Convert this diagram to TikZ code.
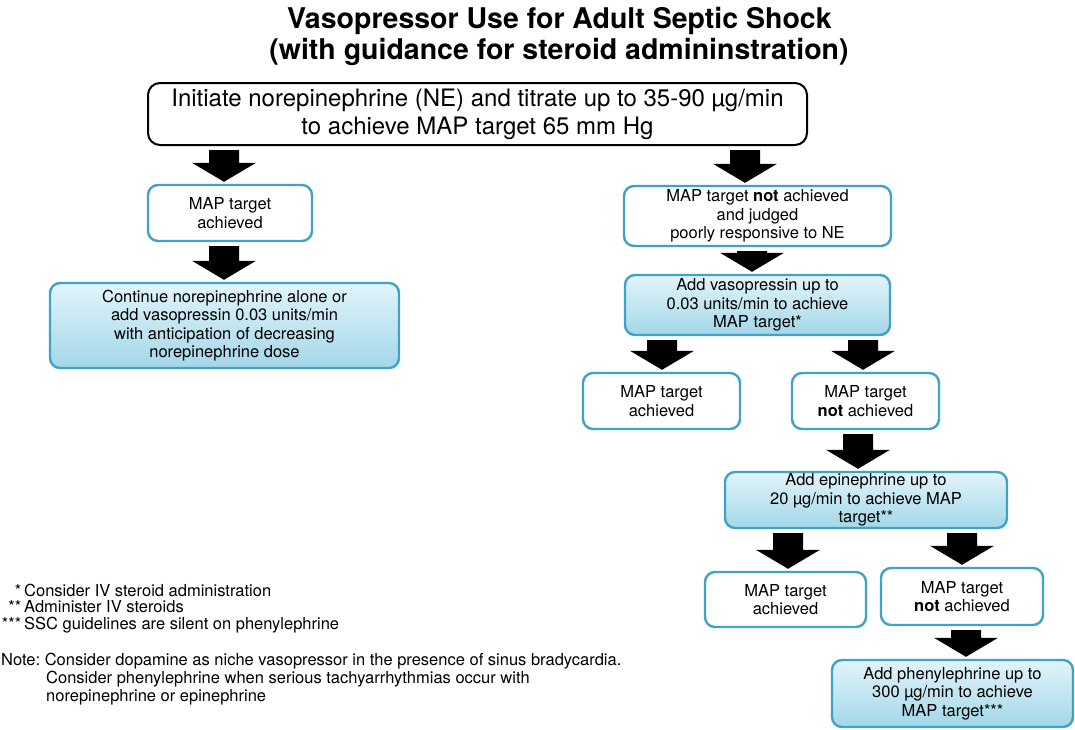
\documentclass[tikz,border=0pt]{standalone}
\usepackage{fontspec}
\setmainfont{TeX Gyre Heros}
\usetikzlibrary{calc}
\definecolor{bcyan}{HTML}{3FA3C6}
\definecolor{gtop}{HTML}{E2F4FA}
\definecolor{gbot}{HTML}{A3D7E8}
\newcommand\blockarrow[3]{%
  \fill[black] let \p1=(#2.south), \p2=(#3.north) in
   (#1pt-15pt,\y1-4pt) -- (#1pt+15pt,\y1-4pt) -- (#1pt+15pt,\y2+21pt) --
   (#1pt+32pt,\y2+21pt) -- (#1pt,\y2+2pt) -- (#1pt-32pt,\y2+21pt) --
   (#1pt-15pt,\y2+21pt) -- cycle;}
\frenchspacing
\begin{document}
\begin{tikzpicture}[x=1pt,y=-1pt,
  cbox/.style={draw=bcyan, line width=2.4pt, rounded corners=10pt, fill=white,
    align=center, font=\fontsize{16.5}{18.5}\selectfont, inner sep=0pt},
  gbox/.style={cbox, top color=gtop, bottom color=gbot},
  titlef/.style={font=\bfseries\fontsize{28.5}{31}\selectfont, inner sep=0pt, anchor=base},
  fn/.style={font=\fontsize{16.5}{18.5}\selectfont, inner sep=0pt, anchor=base west}]
\useasboundingbox (0,0) rectangle (1075,729);
\fill[white] (0,0) rectangle (1075,729);

\node[titlef] (t1) at (559.5,28) {Vasopressor Use for Adult Septic Shock};
\node[titlef] (t2) at (559,59) {(with guidance for steroid admininstration)};

\node[draw=black, line width=2pt, rounded corners=12pt, minimum width=659pt,
  minimum height=62pt, align=center, font=\fontsize{24}{28}\selectfont, inner sep=0pt]
  (top) at (477.5,114) {Initiate norepinephrine (NE) and titrate up to 35-90 µg/min\\to achieve MAP target 65 mm Hg};

\node[cbox, minimum width=164pt, minimum height=56pt] (a1) at (230,213) {MAP target\\achieved};
\node[gbox, minimum width=349pt, minimum height=85pt] (c1) at (224.5,325.5)
  {Continue norepinephrine alone or\\add vasopressin 0.03 units/min\\with anticipation of decreasing\\norepinephrine dose};

\node[cbox, minimum width=267pt, minimum height=60pt] (n1) at (757.5,216)
  {MAP target \textbf{not} achieved\\and judged\\poorly responsive to NE};
\node[gbox, minimum width=265pt, minimum height=60pt] (v) at (757.5,305)
  {Add vasopressin up to\\0.03 units/min to achieve\\MAP target*};

\node[cbox, minimum width=157pt, minimum height=56pt] (a2) at (661.5,401) {MAP target\\achieved};
\node[cbox, minimum width=147pt, minimum height=56pt] (n2) at (865.5,401) {MAP target\\\textbf{not} achieved};

\node[gbox, minimum width=282pt, minimum height=56pt] (e) at (866,500)
  {Add epinephrine up to\\20 µg/min to achieve MAP\\target**};

\node[cbox, minimum width=161pt, minimum height=55pt] (a3) at (785.5,599.5) {MAP target\\achieved};
\node[cbox, minimum width=162pt, minimum height=57pt] (n3) at (962,596.5) {MAP target\\\textbf{not} achieved};

\node[gbox, minimum width=241pt, minimum height=67pt] (p) at (952.5,693.5)
  {Add phenylephrine up to\\300 µg/min to achieve\\MAP target***};

\blockarrow{224}{top}{a1}
\blockarrow{224}{a1}{c1}
\blockarrow{745}{top}{n1}
\blockarrow{752}{n1}{v}
\blockarrow{662}{v}{a2}
\blockarrow{863}{v}{n2}
\blockarrow{858}{n2}{e}
\blockarrow{788}{e}{a3}
\blockarrow{962}{e}{n3}
\blockarrow{966}{n3}{p}

\node[fn] (f1) at (24,596) {\llap{*\kern3pt}Consider IV steroid administration};
\node[fn] (f2) at (24,612) {\llap{**\kern3pt}Administer IV steroids};
\node[fn] (f3) at (24,629) {\llap{***\kern3pt}SSC guidelines are silent on phenylephrine};
\node[fn] (n1t) at (1,665) {Note: Consider dopamine as niche vasopressor in the presence of sinus bradycardia.};
\node[fn] (n2t) at (46,683) {Consider phenylephrine when serious tachyarrhythmias occur with};
\node[fn] (n3t) at (46,701) {norepinephrine or epinephrine};
\end{tikzpicture}
\end{document}
